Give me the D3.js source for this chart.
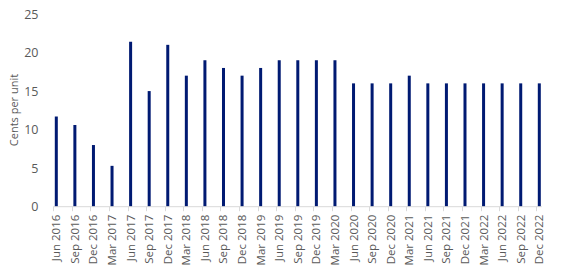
<!DOCTYPE html>
<html>
<head>
<meta charset="utf-8">
<script src="https://cdn.jsdelivr.net/npm/d3@7"></script>
<style>
  body { margin: 0; background: #fff; }
  svg text { font-family: "Open Sans", sans-serif; fill: #595959; }
</style>
</head>
<body>
<div id="chart"></div>
<script>
const quarters = ['Jun 2016', 'Sep 2016', 'Dec 2016', 'Mar 2017', 'Jun 2017', 'Sep 2017', 'Dec 2017',
  'Mar 2018', 'Jun 2018', 'Sep 2018', 'Dec 2018', 'Mar 2019', 'Jun 2019', 'Sep 2019', 'Dec 2019',
  'Mar 2020', 'Jun 2020', 'Sep 2020', 'Dec 2020', 'Mar 2021', 'Jun 2021', 'Sep 2021', 'Dec 2021',
  'Mar 2022', 'Jun 2022', 'Sep 2022', 'Dec 2022'];
const cents = [11.7, 10.6, 8.0, 5.3, 21.4, 15, 21, 17, 19, 18, 17, 18, 19, 19, 19, 19,
  16, 16, 16, 17, 16, 16, 16, 16, 16, 16, 16];
const yTicks = [0, 5, 10, 15, 20, 25];

const width = 581;
const height = 274;

const svg = d3.select('#chart')
  .append('svg')
  .attr('width', width)
  .attr('height', height)

// tick positions for each quarter, bar sits just right of its tick
const xScale = d3.scalePoint()
  .domain(quarters)
  .range([53.3, 536.3])

const yScale = d3.scaleLinear()
  .domain([0, 25])
  .range([206.7, 14])

const barW = 3;

// y tick labels (no axis line in the original)
svg.append('g')
  .selectAll('text')
  .data(yTicks)
  .enter()
  .append('text')
  .attr('x', 38.5)
  .attr('y', d => yScale(d))
  .attr('dy', '0.36em')
  .attr('text-anchor', 'end')
  .style('font-size', '12.5px')
  .text(d => d)

svg.append('text')
  .attr('transform', `translate(18, 110) rotate(-90)`)
  .attr('text-anchor', 'middle')
  .style('font-size', '11px')
  .text('Cents per unit')

svg.selectAll('rect.bar')
  .data(cents)
  .enter()
  .append('rect')
  .attr('class', 'bar')
  .attr('x', (d, i) => xScale(quarters[i]) + 1.5)
  .attr('y', d => yScale(d))
  .attr('width', barW)
  .attr('height', d => yScale(0) - yScale(d))
  .style('fill', '#001a72')

// x axis
const xAxis = svg.append('g')
  .attr('transform', `translate(0, ${yScale(0)})`)

xAxis.append('line')
  .attr('x1', xScale(quarters[0]))
  .attr('x2', xScale(quarters[quarters.length - 1]) + 5.5)
  .attr('stroke', '#d9d9d9')

xAxis.selectAll('line.tick')
  .data(quarters)
  .enter()
  .append('line')
  .attr('class', 'tick')
  .attr('x1', d => Math.round(xScale(d)) + 0.5)
  .attr('x2', d => Math.round(xScale(d)) + 0.5)
  .attr('y1', 0)
  .attr('y2', 4.5)
  .attr('stroke', '#d9d9d9')

xAxis.selectAll('text')
  .data(quarters)
  .enter()
  .append('text')
  .attr('transform', d => `translate(${xScale(d) + 3 + 4}, 8) rotate(-90)`)
  .attr('text-anchor', 'end')
  .style('font-size', '11.5px')
  .text(d => d)
</script>
</body>
</html>
